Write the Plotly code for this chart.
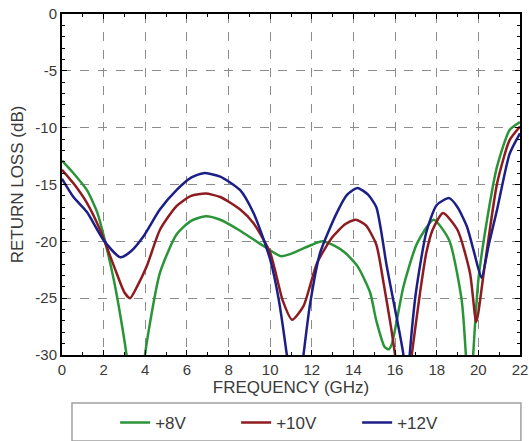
import plotly.graph_objects as go

# ---- data ----
freq_8v = [0, 0.5, 1.2, 1.7, 2.07, 2.5, 2.8, 3.1, 3.55, 4.0, 4.7, 5.5, 6.2, 6.9, 7.6, 8.5, 9.5,
           10.5, 11.0, 12.0, 12.5, 13.1, 13.6, 14.2, 14.8, 15.1, 15.5, 15.7, 15.85, 16.4, 17.05,
           17.85, 18.6, 19.2, 19.4, 19.57, 19.75, 20.0, 20.5, 20.9, 21.5, 22]
rl_8v = [-12.9, -13.9, -15.5, -17.5, -20.0, -23.5, -26.5, -30, -38, -29.8, -22.8, -19.4, -18.2,
         -17.8, -18.1, -19.0, -20.2, -21.3, -21.1, -20.3, -20.0, -20.4, -21.0, -22.2, -24.5,
         -27.0, -29.3, -29.5, -29.0, -24.0, -20.2, -18.1, -19.9, -25.2, -30, -36, -30, -23.4,
         -17.2, -13.4, -10.2, -9.5]

freq_10v = [0, 0.55, 1.19, 1.83, 2.5, 3.0, 3.27, 3.6, 4.07, 4.7, 5.5, 6.2, 6.9, 7.6, 8.56, 9.2,
            10.0, 10.6, 11.05, 11.6, 12.25, 13.0, 13.6, 14.1, 14.6, 15.1, 15.45, 15.8, 16.0,
            16.4, 16.8, 17.2, 17.5, 17.8, 18.3, 19.0, 19.6, 19.9, 20.3, 20.9, 21.5, 22]
rl_10v = [-13.7, -14.9, -16.6, -19.0, -22.2, -24.5, -25.0, -24.0, -22.2, -19.0, -16.9, -16.0,
          -15.8, -16.1, -17.2, -18.4, -21.0, -25.2, -26.9, -25.7, -21.9, -19.6, -18.5, -18.1,
          -18.6, -20.3, -23.7, -27.5, -30, -36, -30, -24.5, -21.0, -19.0, -17.5, -19.0, -22.8,
          -27.1, -22.2, -14.9, -11.1, -9.9]

freq_12v = [0, 0.55, 1.19, 2.0, 2.8, 3.3, 3.9, 4.7, 5.5, 6.2, 6.8, 7.6, 8.56, 9.2, 9.6, 10.0,
            10.4, 10.8, 11.2, 11.6, 11.9, 12.4, 13.2, 13.7, 14.2, 14.7, 15.1, 15.6, 16.0, 16.4,
            16.55, 16.7, 17.0, 17.5, 18.0, 18.6, 19.0, 19.45, 19.8, 20.15, 20.5, 20.9, 21.5, 22]
rl_12v = [-14.5, -16.1, -17.4, -19.9, -21.4, -20.9, -19.6, -17.2, -15.5, -14.4, -14.0, -14.3,
          -15.5, -17.5, -19.4, -21.6, -25.0, -30, -36, -30, -25.7, -21.0, -17.5, -15.9, -15.3,
          -15.9, -17.0, -22.2, -26.0, -30, -34, -30, -24.5, -19.2, -16.8, -16.2, -17.0, -18.7,
          -21.0, -23.2, -20.3, -17.2, -12.3, -10.5]

series_names = ["+8V", "+10V", "+12V"]
series_colors = ["#2a9438", "#8e1b1f", "#1c1f85"]

x_ticks = list(range(0, 23, 2))
y_ticks = list(range(-30, 1, 5))
y_tick_labels = [str(v) for v in y_ticks]   # plain hyphen-minus as in the reference

FONT = "Arial, Liberation Sans, sans-serif"
TXT = "#3a3a3a"

fig = go.Figure()
for f, v, name, col in zip([freq_8v, freq_10v, freq_12v], [rl_8v, rl_10v, rl_12v],
                           series_names, series_colors):
    fig.add_trace(go.Scatter(x=f, y=v, mode="lines", name=name,
                             line=dict(color=col, width=2.5, shape="spline", smoothing=0.6)))

axis_common = dict(
    showline=True, linecolor="black", linewidth=2, mirror="ticks",
    ticks="inside", ticklen=5, tickcolor="black", tickwidth=1,
    showgrid=True, gridcolor="#8c8c8c", griddash="dash", gridwidth=1,
    zeroline=False, automargin=False,
    tickfont=dict(family=FONT, size=15, color=TXT),
    minor=dict(ticks="inside", ticklen=3, tickcolor="black", dtick=1, showgrid=False),
)

fig.update_xaxes(range=[0, 22], tickvals=x_ticks, **axis_common,
                 title=dict(text="FREQUENCY (GHz)", font=dict(family=FONT, size=17, color=TXT),
                            standoff=0))
fig.update_yaxes(range=[-30, 0], tickvals=y_ticks, ticktext=y_tick_labels, **axis_common,
                 title=dict(text="RETURN LOSS (dB)", font=dict(family=FONT, size=17, color=TXT),
                            standoff=7))

fig.add_shape(type="rect", xref="paper", yref="paper", x0=0.0218, x1=1.002, y0=-0.252, y1=-0.141,
              line=dict(color="#a0a0a0", width=1.5), fillcolor="rgba(0,0,0,0)", layer="above")

fig.update_layout(
    width=529, height=441,
    margin=dict(l=62, r=9, t=14, b=86, autoexpand=False),
    paper_bgcolor="white", plot_bgcolor="white",
    showlegend=True,
    legend=dict(orientation="h", x=0.116, xanchor="left", y=-0.199, yanchor="middle",
                font=dict(family=FONT, size=17, color=TXT),
                entrywidth=76, entrywidthmode="pixels",
                bgcolor="rgba(0,0,0,0)", borderwidth=0),
)

fig.write_html("out.html")
